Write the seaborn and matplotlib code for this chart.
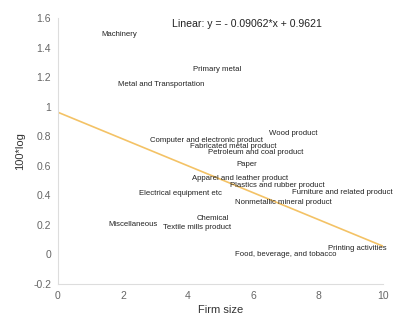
import numpy as np
import pandas as pd
import matplotlib
matplotlib.use("Agg")
import matplotlib.pyplot as plt
import seaborn as sns

# Industry labels placed at (firm size, 100*log) positions
industries = [
    "Machinery", "Primary metal", "Metal and Transportation", "Wood product",
    "Computer and electronic product", "Fabricated metal product",
    "Petroleum and coal product", "Paper", "Apparel and leather product",
    "Plastics and rubber product", "Furniture and related product",
    "Electrical equipment etc", "Nonmetallic mineral product", "Chemical",
    "Miscellaneous", "Textile mills product", "Printing activities",
    "Food, beverage, and tobacco",
]
firm_size = [1.35, 4.15, 1.85, 6.5, 2.83, 4.07, 4.6, 5.5, 4.12, 5.3, 7.2,
             2.5, 5.45, 4.28, 1.55, 3.23, 8.3, 5.45]
log_value = [1.49, 1.25, 1.15, 0.82, 0.77, 0.73, 0.69, 0.61, 0.515, 0.47,
             0.42, 0.415, 0.35, 0.24, 0.20, 0.18, 0.04, 0.0]

# Linear fit
slope = -0.09062
intercept = 0.9621
fit_x = np.array([0, 10])
fit = pd.DataFrame({"x": fit_x, "y": intercept + slope * fit_x})

sns.set_style("white")
plt.rcParams["font.family"] = ["Liberation Sans", "DejaVu Sans"]

fig = plt.figure(figsize=(4.0, 3.22), dpi=100)
ax = fig.add_axes([0.145, 0.118, 0.8125, 0.826])

sns.lineplot(data=fit, x="x", y="y", ax=ax, color="#f2b84b", linewidth=1.2,
             alpha=0.85)

for name, xv, yv in zip(industries, firm_size, log_value):
    ax.text(xv, yv, name, fontsize=5.6, color="#222222", ha="left",
            va="center")

ax.text(3.5, 1.56, f"Linear: y = - {abs(slope):.5f}*x + {intercept:.4f}",
        fontsize=7.6, color="#222222", ha="left", va="center")

ax.set_xlim(0, 10)
ax.set_ylim(-0.2, 1.6)
ax.set_xticks([0, 2, 4, 6, 8, 10])
ax.set_yticks([-0.2, 0, 0.2, 0.4, 0.6, 0.8, 1.0, 1.2, 1.4, 1.6])
ax.set_yticklabels(["-0.2", "0", "0.2", "0.4", "0.6", "0.8", "1", "1.2",
                    "1.4", "1.6"])
ax.tick_params(labelsize=7.5, colors="#666666", length=0, pad=5)
ax.set_xlabel("Firm size", fontsize=8, color="#333333", labelpad=3)
ax.set_ylabel("100*log", fontsize=8, color="#333333", labelpad=6)

for side in ["top", "right"]:
    ax.spines[side].set_visible(False)
for side in ["left", "bottom"]:
    ax.spines[side].set_color("#dddddd")
    ax.spines[side].set_linewidth(0.8)

fig.savefig("out.png", dpi=100)
